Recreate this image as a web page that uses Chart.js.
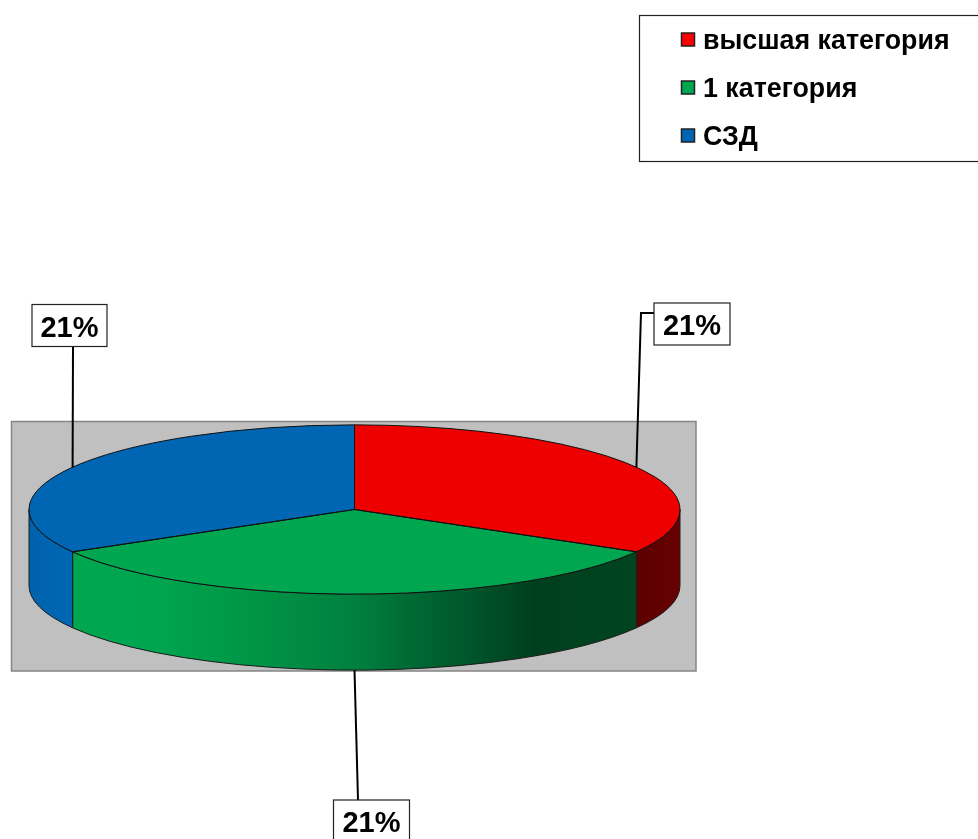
<!DOCTYPE html>
<html>
<head>
<meta charset="utf-8">
<title>Категории</title>
<script src="https://cdn.jsdelivr.net/npm/chart.js@4/dist/chart.umd.min.js"></script>
<style>
  body { margin: 0; background: #fff; }
  canvas { display: block; }
</style>
</head>
<body>
<canvas id="pie" width="978" height="839"></canvas>
<script>
const categories = ["высшая категория", "1 категория", "СЗД"];
const percents = [21, 21, 21];
const topColors = ["#ee0000", "#00a650", "#0066b3"];
const legendColors = ["#ff0000", "#00a650", "#0066b3"];

// side wall shading, left to right
const wallStops = [
  [[0, "#5c0000"], [1, "#680000"]],
  [[0, "#00a650"], [0.15, "#00a54f"], [0.35, "#009245"], [0.5, "#00803e"], [0.62, "#006633"], [0.82, "#003f1e"], [1, "#00451f"]],
  [[0, "#0062ad"], [1, "#0066b3"]]
];

const squash = 0.26;
const depth = 76;
const FONT = '"Liberation Sans", Arial, sans-serif';

// where the label box sits and the extra bend of the leader
const labelBoxes = [
  { x: 654, y: 303, w: 76, h: 42, leader: [[641, 313], [654, 313]], onWall: false },
  { x: 333.5, y: 800, w: 76, h: 42, leader: [[358, 800]], onWall: true },
  { x: 32, y: 304.5, w: 75, h: 42, leader: [[73, 346.5]], onWall: false }
];

function backdrop(ctx) {
  ctx.fillStyle = "#c0c0c0";
  ctx.strokeStyle = "#858585";
  ctx.lineWidth = 1.5;
  ctx.fillRect(11.5, 421.5, 684.5, 249.5);
  ctx.strokeRect(11.5, 421.5, 684.5, 249.5);
}

function drawWalls(chart) {
  const ctx = chart.ctx;
  chart.getDatasetMeta(0).data.forEach((arc, i) => {
    const p = arc.getProps(["x", "y", "startAngle", "endAngle", "outerRadius"], true);
    const a0 = Math.max(p.startAngle, 0);
    const a1 = Math.min(p.endAngle, Math.PI);
    if (a1 <= a0) return;
    const ry = p.outerRadius * squash;
    const x0 = p.x + p.outerRadius * Math.cos(a1);
    const x1 = p.x + p.outerRadius * Math.cos(a0);
    const grad = ctx.createLinearGradient(x0, 0, x1, 0);
    wallStops[i].forEach(s => grad.addColorStop(s[0], s[1]));
    ctx.beginPath();
    ctx.ellipse(p.x, p.y, p.outerRadius, ry, 0, a0, a1);
    ctx.ellipse(p.x, p.y + depth, p.outerRadius, ry, 0, a1, a0, true);
    ctx.closePath();
    ctx.fillStyle = grad;
    ctx.fill();
    ctx.strokeStyle = "#1c1c1c";
    ctx.lineWidth = 1;
    ctx.stroke();
  });
}

function drawOutlines(chart) {
  const ctx = chart.ctx;
  ctx.strokeStyle = "#111";
  ctx.lineWidth = 1;
  chart.getDatasetMeta(0).data.forEach(arc => {
    const p = arc.getProps(["x", "y", "startAngle", "endAngle", "outerRadius"], true);
    const ry = p.outerRadius * squash;
    ctx.beginPath();
    ctx.moveTo(p.x, p.y);
    ctx.ellipse(p.x, p.y, p.outerRadius, ry, 0, p.startAngle, p.endAngle);
    ctx.closePath();
    ctx.stroke();
  });
}

function drawLabels(chart) {
  const ctx = chart.ctx;
  chart.getDatasetMeta(0).data.forEach((arc, i) => {
    const p = arc.getProps(["x", "y", "startAngle", "endAngle", "outerRadius"], true);
    const mid = (p.startAngle + p.endAngle) / 2;
    const box = labelBoxes[i];
    const sx = p.x + p.outerRadius * Math.cos(mid);
    const sy = p.y + p.outerRadius * squash * Math.sin(mid) + (box.onWall ? depth : 0);

    ctx.strokeStyle = "#000";
    ctx.lineWidth = 2;
    ctx.beginPath();
    ctx.moveTo(sx, sy);
    box.leader.forEach(pt => ctx.lineTo(pt[0], pt[1]));
    ctx.stroke();

    ctx.fillStyle = "#fff";
    ctx.fillRect(box.x, box.y, box.w, box.h);
    ctx.strokeStyle = "#222";
    ctx.lineWidth = 1.2;
    ctx.strokeRect(box.x, box.y, box.w, box.h);

    ctx.fillStyle = "#000";
    ctx.font = "bold 29px " + FONT;
    ctx.textAlign = "center";
    ctx.textBaseline = "alphabetic";
    ctx.fillText(percents[i] + "%", box.x + box.w / 2, box.y + 32);
  });
}

function drawLegend(chart) {
  const ctx = chart.ctx;
  ctx.fillStyle = "#fff";
  ctx.fillRect(639.5, 15.5, 340, 146);
  ctx.strokeStyle = "#222";
  ctx.lineWidth = 1.2;
  ctx.strokeRect(639.5, 15.5, 340, 146);
  categories.forEach((name, i) => {
    const y = 33 + i * 48;
    ctx.fillStyle = legendColors[i];
    ctx.fillRect(681.5, y, 13, 13);
    ctx.strokeStyle = "#222";
    ctx.lineWidth = 1.5;
    ctx.strokeRect(681.5, y, 13, 13);
    ctx.fillStyle = "#000";
    ctx.font = "bold 26.8px " + FONT;
    ctx.textAlign = "left";
    ctx.textBaseline = "alphabetic";
    ctx.fillText(name, 703, y + 16);
  });
}

const pie3d = {
  id: "pie3d",
  beforeDatasetsDraw(chart) {
    backdrop(chart.ctx);
    drawWalls(chart);
  },
  beforeDatasetDraw(chart) {
    // squash the round pie into the tilted top face
    const p = chart.getDatasetMeta(0).data[0];
    chart.ctx.save();
    chart.ctx.translate(p.x, p.y);
    chart.ctx.scale(1, squash);
    chart.ctx.translate(-p.x, -p.y);
  },
  afterDatasetDraw(chart) {
    chart.ctx.restore();
  },
  afterDatasetsDraw(chart) {
    drawOutlines(chart);
    drawLabels(chart);
    drawLegend(chart);
  }
};

new Chart(document.getElementById("pie"), {
  type: "pie",
  data: {
    labels: categories,
    datasets: [{
      data: percents,
      backgroundColor: topColors,
      borderWidth: 0
    }]
  },
  plugins: [pie3d],
  options: {
    responsive: false,
    animation: false,
    layout: { padding: { left: 29, right: 298, top: 184, bottom: 4 } },
    plugins: {
      legend: { display: false },
      tooltip: { enabled: false }
    }
  }
});
</script>
</body>
</html>
